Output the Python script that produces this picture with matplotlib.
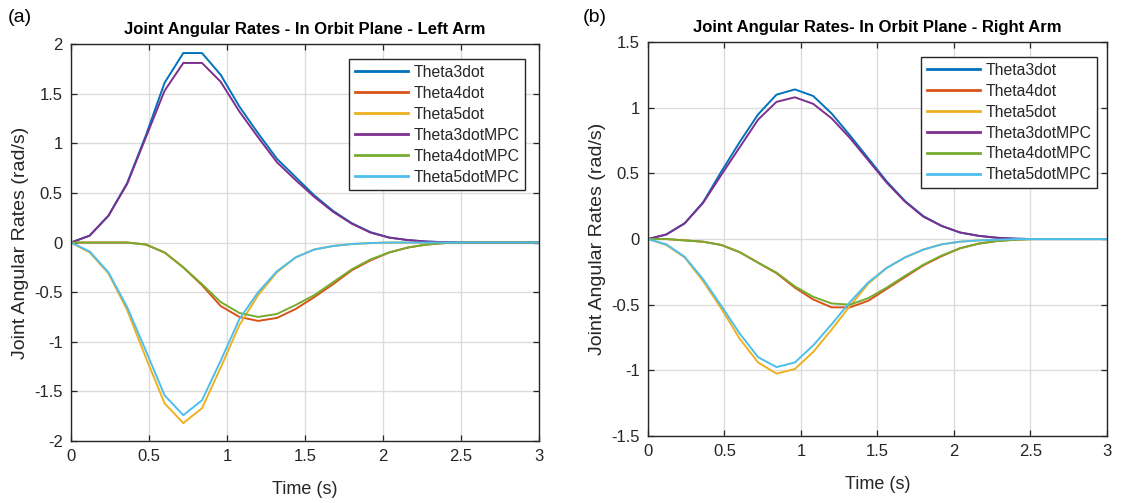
import matplotlib

matplotlib.use("Agg")
import matplotlib.pyplot as plt

plt.rcParams["font.family"] = ["Liberation Sans", "DejaVu Sans"]

# MATLAB default line colours
COLORS = ["#0072BD", "#D95319", "#EDB120", "#7E2F8E", "#77AC30", "#4DBEEE"]
LABELS = ["Theta3dot", "Theta4dot", "Theta5dot",
          "Theta3dotMPC", "Theta4dotMPC", "Theta5dotMPC"]

time_s = [0.0, 0.12, 0.24, 0.36, 0.48, 0.60, 0.72, 0.84, 0.96, 1.08, 1.20, 1.32, 1.44,
          1.56, 1.68, 1.80, 1.92, 2.04, 2.16, 2.28, 2.40, 2.52, 2.64, 2.76, 2.88, 3.0]

# ── (a) left arm ────────────────────────────────────────────────────
left_th3 = [0, 0.07, 0.27, 0.60, 1.08, 1.61, 1.91, 1.91, 1.69, 1.37, 1.10, 0.845, 0.66,
            0.475, 0.32, 0.195, 0.105, 0.05, 0.025, 0.01, 0.003, 0, 0, 0, 0, 0]
left_th4 = [0, 0, 0, 0, -0.02, -0.10, -0.25, -0.43, -0.64, -0.75, -0.79, -0.76, -0.67,
            -0.55, -0.42, -0.28, -0.18, -0.10, -0.05, -0.02, -0.005, 0, 0, 0, 0, 0]
left_th5 = [0, -0.10, -0.31, -0.68, -1.16, -1.62, -1.82, -1.67, -1.26, -0.83, -0.53, -0.30,
            -0.15, -0.07, -0.035, -0.015, -0.005, 0, 0, 0, 0, 0, 0, 0, 0, 0]
left_th3_mpc = [0, 0.07, 0.27, 0.59, 1.06, 1.53, 1.81, 1.81, 1.62, 1.32, 1.06, 0.81, 0.63,
                0.46, 0.31, 0.19, 0.10, 0.05, 0.025, 0.01, 0.003, 0, 0, 0, 0, 0]
left_th4_mpc = [0, 0, 0, 0, -0.02, -0.10, -0.25, -0.42, -0.60, -0.71, -0.75, -0.72, -0.63,
                -0.53, -0.40, -0.27, -0.17, -0.10, -0.05, -0.02, -0.005, 0, 0, 0, 0, 0]
left_th5_mpc = [0, -0.09, -0.30, -0.65, -1.09, -1.54, -1.74, -1.59, -1.19, -0.77, -0.50, -0.29,
                -0.15, -0.07, -0.035, -0.015, -0.005, 0, 0, 0, 0, 0, 0, 0, 0, 0]

# ── (b) right arm ───────────────────────────────────────────────────
right_th3 = [0, 0.035, 0.12, 0.28, 0.515, 0.74, 0.95, 1.10, 1.14, 1.09, 0.957, 0.79, 0.615,
             0.44, 0.29, 0.175, 0.10, 0.05, 0.025, 0.01, 0.003, 0, 0, 0, 0, 0]
right_th4 = [0, 0, -0.01, -0.02, -0.045, -0.10, -0.18, -0.26, -0.37, -0.46, -0.52, -0.52, -0.47,
             -0.38, -0.29, -0.20, -0.13, -0.07, -0.035, -0.015, -0.005, 0, 0, 0, 0, 0]
right_th5 = [0, -0.045, -0.14, -0.32, -0.53, -0.76, -0.94, -1.025, -0.99, -0.86, -0.69, -0.51,
             -0.34, -0.22, -0.14, -0.08, -0.04, -0.02, -0.01, -0.005, 0, 0, 0, 0, 0, 0]
right_th3_mpc = [0, 0.035, 0.12, 0.275, 0.49, 0.70, 0.91, 1.045, 1.08, 1.03, 0.92, 0.77, 0.60,
                 0.43, 0.285, 0.17, 0.10, 0.05, 0.025, 0.01, 0.003, 0, 0, 0, 0, 0]
right_th4_mpc = [0, 0, -0.01, -0.02, -0.045, -0.10, -0.18, -0.255, -0.36, -0.44, -0.49, -0.50,
                 -0.45, -0.37, -0.28, -0.195, -0.125, -0.07, -0.035, -0.015, -0.005, 0, 0, 0, 0, 0]
right_th5_mpc = [0, -0.04, -0.135, -0.305, -0.51, -0.72, -0.90, -0.975, -0.94, -0.81, -0.65,
                 -0.48, -0.33, -0.22, -0.14, -0.08, -0.04, -0.02, -0.01, -0.005, 0, 0, 0, 0, 0, 0]

left_series = [left_th3, left_th4, left_th5, left_th3_mpc, left_th4_mpc, left_th5_mpc]
right_series = [right_th3, right_th4, right_th5, right_th3_mpc, right_th4_mpc, right_th5_mpc]

left_yticks = [-2, -1.5, -1, -0.5, 0, 0.5, 1, 1.5, 2]
right_yticks = [-1.5, -1, -0.5, 0, 0.5, 1, 1.5]
xticks = [0, 0.5, 1, 1.5, 2, 2.5, 3]
tick_text = ["0", "0.5", "1", "1.5", "2", "2.5", "3"]


def style_axes(ax, yticks, title, legend_anchor):
    ax.set_xlim(0, 3)
    ax.set_ylim(yticks[0], yticks[-1])
    ax.set_xticks(xticks)
    ax.set_xticklabels(tick_text)
    ax.set_yticks(yticks)
    ax.set_yticklabels([f"{v:g}" for v in yticks])
    ax.grid(True, color="#dcdcdc", lw=1.0)
    ax.set_axisbelow(True)
    ax.tick_params(direction="in", top=True, right=True, length=4, width=0.9,
                   labelsize=12, labelcolor="#262626", color="#262626", pad=6)
    for sp in ax.spines.values():
        sp.set_color("#262626")
        sp.set_linewidth(1.0)
    ax.set_title(title, fontsize=12, fontweight="bold", pad=7)
    ax.set_xlabel("Time (s)", fontsize=13, color="#262626", labelpad=12)
    ax.set_ylabel("Joint Angular Rates (rad/s)", fontsize=14, color="#262626", labelpad=4)
    leg = ax.legend(loc="upper right", bbox_to_anchor=legend_anchor, fontsize=11.3,
                    handlelength=3.4, labelspacing=0.38, handletextpad=0.35,
                    borderpad=0.35, borderaxespad=0, fancybox=False, framealpha=1)
    leg.get_frame().set_edgecolor("#262626")
    leg.get_frame().set_linewidth(1.0)
    for text in leg.get_texts():
        text.set_color("#262626")
    for line in leg.get_lines():
        line.set_linewidth(2.0)


fig = plt.figure(figsize=(11.23, 5.03), dpi=100)
ax_l = fig.add_axes([0.0632, 0.1233, 0.4167, 0.789])
ax_r = fig.add_axes([0.577, 0.1332, 0.4087, 0.783])

for ys, c, lab in zip(left_series, COLORS, LABELS):
    ax_l.plot(time_s, ys, color=c, lw=1.4, label=lab)
for ys, c, lab in zip(right_series, COLORS, LABELS):
    ax_r.plot(time_s, ys, color=c, lw=1.4, label=lab)

style_axes(ax_l, left_yticks, "Joint Angular Rates - In Orbit Plane - Left Arm", (0.970, 0.962))
style_axes(ax_r, right_yticks, "Joint Angular Rates- In Orbit Plane - Right Arm", (0.978, 0.962))

fig.text(0.007, 0.965, "(a)", fontsize=14, va="center", ha="left")
fig.text(0.519, 0.965, "(b)", fontsize=14, va="center", ha="left")

fig.savefig("out.png", dpi=100)
